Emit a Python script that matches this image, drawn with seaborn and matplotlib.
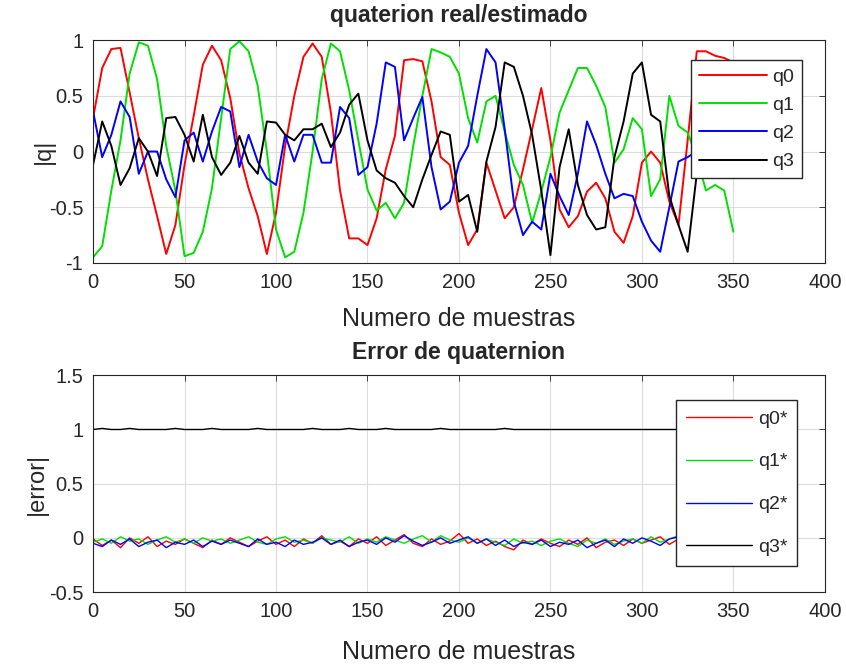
import numpy as np
import pandas as pd
import matplotlib
matplotlib.use("Agg")
import matplotlib.pyplot as plt
import seaborn as sns

# muestras cada 5
muestras = list(range(0, 351, 5))

q0 = [0.30, 0.75, 0.92, 0.93, 0.53, 0.12, -0.25, -0.58, -0.92, -0.66,
      -0.12, 0.32, 0.78, 0.95, 0.82, 0.48, -0.02, -0.33, -0.58, -0.92,
      -0.55, 0.05, 0.50, 0.85, 0.97, 0.85, 0.35, -0.35, -0.78, -0.78,
      -0.84, -0.60, -0.16, 0.14, 0.82, 0.83, 0.81, 0.45, -0.05, -0.12,
      -0.55, -0.84, -0.70, -0.10, -0.35, -0.60, -0.50, -0.16, 0.20, 0.57,
      0.10, -0.52, -0.68, -0.58, -0.36, -0.28, -0.42, -0.72, -0.82, -0.58,
      -0.10, 0.00, -0.10, -0.45, -0.66, 0.10, 0.90, 0.90, 0.86, 0.84, 0.80]

q1 = [-0.95, -0.85, -0.35, 0.10, 0.70, 0.98, 0.95, 0.65, 0.05, -0.35,
      -0.94, -0.91, -0.72, -0.33, 0.30, 0.92, 0.99, 0.90, 0.59, 0.00,
      -0.70, -0.95, -0.90, -0.55, 0.00, 0.65, 0.97, 0.90, 0.55, 0.10,
      -0.34, -0.53, -0.46, -0.60, -0.46, 0.05, 0.50, 0.92, 0.89, 0.85,
      0.70, 0.30, 0.08, 0.45, 0.50, 0.18, -0.12, -0.30, -0.64, -0.36,
      -0.05, 0.35, 0.55, 0.75, 0.75, 0.59, 0.40, -0.10, 0.02, 0.30,
      0.20, -0.40, -0.25, 0.50, 0.23, 0.17, -0.05, -0.35, -0.30, -0.35, -0.72]

q2 = [0.36, -0.05, 0.15, 0.45, 0.31, -0.20, 0.00, 0.00, -0.25, -0.41,
      0.10, 0.17, -0.09, 0.18, 0.40, 0.36, -0.14, 0.15, -0.09, -0.24,
      -0.30, 0.15, -0.09, 0.15, 0.15, -0.10, -0.10, 0.40, 0.30, -0.21,
      -0.14, 0.25, 0.80, 0.76, 0.10, 0.30, 0.49, -0.14, -0.52, -0.45,
      -0.10, 0.05, 0.50, 0.92, 0.80, 0.20, -0.45, -0.75, -0.63, -0.70,
      -0.20, -0.40, -0.57, -0.20, 0.27, 0.06, -0.20, -0.42, -0.38, -0.40,
      -0.63, -0.80, -0.90, -0.50, -0.09, -0.05, 0.00, 0.05, 0.00, 0.05, 0.00]

q3 = [-0.12, 0.27, 0.05, -0.30, -0.15, 0.12, 0.00, -0.22, 0.30, 0.31,
      0.15, -0.09, 0.33, -0.05, -0.21, -0.10, 0.14, -0.10, -0.20, 0.27,
      0.26, 0.15, 0.10, 0.20, 0.20, 0.25, 0.04, 0.17, 0.42, 0.52,
      0.10, -0.17, -0.24, -0.28, -0.40, -0.50, -0.25, -0.03, 0.18, 0.15,
      -0.45, -0.39, -0.72, -0.09, 0.22, 0.80, 0.76, 0.50, 0.15, -0.35,
      -0.93, -0.14, 0.20, -0.30, -0.57, -0.70, -0.68, -0.05, 0.27, 0.70,
      0.80, 0.33, 0.27, -0.40, -0.66, -0.90, -0.20, 0.10, 0.10, 0.05, 0.05]

# error de quaternion
e0 = [-0.01, -0.07, -0.02, -0.09, 0.00, -0.05, 0.01, -0.08, -0.03, -0.06,
      -0.01, -0.05, -0.09, -0.02, -0.06, 0.00, -0.04, -0.08, -0.03, 0.01,
      -0.06, -0.02, -0.08, -0.01, -0.05, 0.02, -0.06, -0.03, -0.08, -0.01,
      -0.05, 0.01, -0.07, -0.02, 0.03, -0.05, -0.08, -0.01, -0.06, -0.03,
      0.04, -0.05, -0.01, -0.07, -0.03, -0.08, -0.11, -0.02, -0.06, -0.01,
      -0.05, -0.08, -0.02, -0.06, 0.00, -0.09, -0.04, -0.02, -0.07, -0.01,
      -0.05, -0.02, 0.01, -0.06, -0.01, 0.07, 0.00, -0.05, 0.02, -0.04, -0.02]

e1 = [-0.04, -0.01, -0.05, 0.01, -0.03, -0.01, -0.06, -0.02, 0.01, -0.04,
      -0.01, -0.05, 0.00, -0.03, -0.01, -0.05, -0.02, 0.01, -0.04, -0.06,
      -0.01, 0.01, -0.04, -0.02, -0.05, 0.00, -0.02, -0.04, 0.01, -0.05,
      -0.01, -0.04, 0.01, -0.02, -0.05, -0.01, 0.02, -0.04, 0.02, -0.02,
      -0.04, 0.00, -0.05, -0.01, -0.04, -0.07, -0.01, -0.05, -0.03, -0.07,
      -0.03, -0.01, -0.05, -0.08, -0.02, -0.05, -0.01, -0.06, -0.03, -0.01,
      -0.05, 0.01, -0.04, -0.01, 0.02, -0.02, 0.00, -0.04, -0.01, 0.01, -0.03]

e2 = [-0.05, -0.08, -0.02, -0.06, -0.01, -0.08, -0.04, -0.02, -0.09, -0.04,
      -0.06, -0.02, -0.08, -0.03, -0.06, -0.02, -0.05, -0.08, -0.01, -0.06,
      -0.04, -0.08, -0.02, -0.06, -0.04, 0.00, -0.06, -0.02, -0.08, -0.04,
      -0.02, -0.06, 0.00, -0.04, 0.02, -0.03, -0.07, -0.04, 0.00, -0.05,
      -0.02, 0.01, -0.05, -0.01, -0.07, -0.02, -0.08, -0.04, -0.06, -0.02,
      -0.08, -0.04, -0.06, -0.02, -0.09, -0.05, -0.02, -0.08, -0.01, -0.05,
      0.00, -0.03, -0.07, -0.01, 0.01, -0.03, -0.05, -0.01, -0.06, -0.03, -0.05]

e3 = [1.00, 1.01, 1.00, 1.00, 1.01, 1.00, 1.00, 1.00, 1.00, 1.01,
      1.00, 1.00, 1.00, 1.01, 1.00, 1.00, 1.00, 1.00, 1.01, 1.00,
      1.00, 1.00, 1.00, 1.00, 1.01, 1.00, 1.00, 1.00, 1.01, 1.00,
      1.00, 1.00, 1.01, 1.00, 1.00, 1.00, 1.00, 1.00, 1.01, 1.00,
      1.00, 1.00, 1.00, 1.00, 1.00, 1.01, 1.00, 1.00, 1.00, 1.00,
      1.00, 1.00, 1.00, 1.00, 1.00, 1.00, 1.00, 1.00, 1.00, 1.00,
      1.00, 1.00, 1.00, 1.00, 1.00, 1.00, 1.00, 1.00, 1.00, 1.00, 1.00]

colores = ["#ff0000", "#00e000", "#0000ff", "#000000"]

top = pd.DataFrame({"muestra": muestras, "q0": q0, "q1": q1, "q2": q2, "q3": q3})
top = top.melt(id_vars="muestra", var_name="comp", value_name="valor")
bot = pd.DataFrame({"muestra": muestras, "q0*": e0, "q1*": e1, "q2*": e2, "q3*": e3})
bot = bot.melt(id_vars="muestra", var_name="comp", value_name="valor")

sns.set_style("whitegrid")
plt.rcParams["font.family"] = ["Liberation Sans", "DejaVu Sans"]

fig = plt.figure(figsize=(8.46, 6.69), dpi=100)
ax1 = fig.add_axes([0.110, 0.607, 0.865, 0.333])
ax2 = fig.add_axes([0.110, 0.115, 0.865, 0.324])

sns.lineplot(data=top, x="muestra", y="valor", hue="comp", palette=colores,
             estimator=None, linewidth=1.4, ax=ax1)
sns.lineplot(data=bot, x="muestra", y="valor", hue="comp", palette=colores,
             estimator=None, linewidth=1.0, ax=ax2)

ax1.set_ylim(-1, 1)
ax1.set_yticks([-1, -0.5, 0, 0.5, 1])
ax1.set_yticklabels(["-1", "-0.5", "0", "0.5", "1"])
ax1.set_ylabel("|q|", fontsize=17)
ax1.set_title("quaterion real/estimado", fontsize=16.5, fontweight="bold", pad=13)
ax1.set_xlabel("Numero de muestras", fontsize=18, labelpad=11)
ax1.yaxis.set_label_coords(-0.052, 0.5)

ax2.set_ylim(-0.5, 1.5)
ax2.set_yticks([-0.5, 0, 0.5, 1, 1.5])
ax2.set_yticklabels(["-0.5", "0", "0.5", "1", "1.5"])
ax2.set_ylabel("|error|", fontsize=17)
ax2.set_title("Error de quaternion", fontsize=16.5, fontweight="bold", pad=12)
ax2.set_xlabel("Numero de muestras", fontsize=18, labelpad=14)
ax2.yaxis.set_label_coords(-0.062, 0.5)

for ax in (ax1, ax2):
    ax.set_xlim(0, 400)
    ax.set_xticks(range(0, 401, 50))
    ax.grid(True, color="#dcdcdc", linewidth=0.8)
    ax.tick_params(direction="in", top=True, right=True, length=4,
                   labelsize=14.5, colors="#262626", width=0.6)
    ax.tick_params(axis="x", pad=7)
    ax.tick_params(axis="y", pad=7)
    for s in ax.spines.values():
        s.set_color("#262626")
        s.set_linewidth(0.8)

h1, l1 = ax1.get_legend_handles_labels()
ax1.legend(h1, l1, loc="upper right", bbox_to_anchor=(0.969, 0.91), fontsize=14,
           frameon=True, fancybox=False, edgecolor="#262626", framealpha=1,
           handlelength=3.5, handletextpad=0.3, labelspacing=0.55,
           borderpad=0.4, borderaxespad=0)
h2, l2 = ax2.get_legend_handles_labels()
ax2.legend(h2, l2, loc="upper right", bbox_to_anchor=(0.962, 0.885), fontsize=14,
           frameon=True, fancybox=False, edgecolor="#262626", framealpha=1,
           handlelength=3.4, handletextpad=0.3, labelspacing=1.3,
           borderpad=0.5, borderaxespad=0)

fig.savefig("out.png", dpi=100, facecolor="white")
